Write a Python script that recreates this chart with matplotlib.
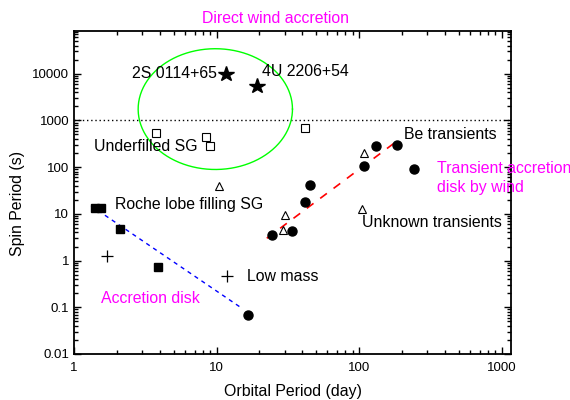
import numpy as np
import matplotlib
matplotlib.use("Agg")
import matplotlib.pyplot as plt

plt.rcParams['font.family'] = ['Liberation Sans', 'DejaVu Sans']

# orbital period (day) vs spin period (s) for each source class
wind_orb = [11.6, 19.25]
wind_spin = [9700, 5560]
wind_names = ['2S 0114+65', '4U 2206+54']

sg_under_orb = [3.73, 8.37, 8.96, 41.5]
sg_under_spin = [526, 438, 283, 681]

sg_roche_orb = [1.41, 1.54, 2.09, 3.89]
sg_roche_spin = [13.5, 13.2, 4.8, 0.72]

lowmass_orb = [1.70, 11.8]
lowmass_spin = [1.24, 0.47]

be_orb = [16.6, 24.3, 34.0, 41.8, 45.3, 108, 131, 184, 243]
be_spin = [0.069, 3.6, 4.3, 17.5, 41, 104, 277, 292, 93]

unknown_orb = [10.4, 29.4, 30.3, 104, 109]
unknown_spin = [38.6, 4.6, 9.4, 12.4, 203]

# trend lines (end points)
disk_fit_orb = [1.317, 15.0]
disk_fit_spin = [14.8, 0.096]
be_fit_orb = [22.5, 187]
be_fit_spin = [3.0, 373]

x_ticks = [1, 10, 100, 1000]
x_ticklabels = ['1', '10', '100', '1000']
y_ticks = [0.01, 0.1, 1, 10, 100, 1000, 10000]
y_ticklabels = ['0.01', '0.1', '1', '10', '100', '1000', '10000']

fig = plt.figure(figsize=(5.7, 4.0), dpi=100)
ax = fig.add_axes([0.130, 0.115, 0.767, 0.8075])
ax.set_xscale('log')
ax.set_yscale('log')
ax.set_xlim(1, 1170)
ax.set_ylim(0.01, 8.2e4)

ax.axhline(1000, color='k', ls=(0, (1, 2)), lw=1)

# wind accretion region
t = np.linspace(0, 2 * np.pi, 300)
ax.plot(10 ** (0.991 + 0.5415 * np.cos(t)), 10 ** (3.242 + 1.2925 * np.sin(t)),
        color='#00ff00', lw=1)

ax.plot(disk_fit_orb, disk_fit_spin, color='#0000ff', ls=(0, (3, 3)), lw=1)
ax.plot(be_fit_orb, be_fit_spin, color='#ff0000', ls=(0, (5, 5)), lw=1.2)

ax.plot(wind_orb, wind_spin, '*', color='k', ms=11.5, ls='none')
ax.plot(sg_under_orb, sg_under_spin, 's', mfc='white', mec='k', ms=5.5, mew=0.8, ls='none')
ax.plot(sg_roche_orb, sg_roche_spin, 's', color='k', ms=6, ls='none')
ax.plot(lowmass_orb, lowmass_spin, '+', color='k', ms=8, mew=0.9, ls='none')
ax.plot(be_orb, be_spin, 'o', color='k', ms=6.5, ls='none')
ax.plot(unknown_orb, unknown_spin, '^', mfc='white', mec='k', ms=5.5, mew=0.8, ls='none')

fs = 11.4
ax.text(10.1, 10000, wind_names[0], ha='right', va='center', fontsize=fs)
ax.text(20.8, 10900, wind_names[1], ha='left', va='center', fontsize=fs)
ax.text(1.38, 282, 'Underfilled SG', ha='left', va='center', fontsize=fs)
ax.text(205, 494, 'Be transients', ha='left', va='center', fontsize=fs)
ax.text(1.94, 15.6, 'Roche lobe filling SG', ha='left', va='center', fontsize=fs)
ax.text(105.5, 6.6, 'Unknown transients', ha='left', va='center', fontsize=fs)
ax.text(16.3, 0.454, 'Low mass', ha='left', va='center', fontsize=fs)
ax.text(1.55, 0.157, 'Accretion disk', ha='left', va='center', fontsize=fs, color='#ff00ff')
ax.text(351, 94, 'Transient accretion', ha='left', va='center', fontsize=fs, color='#ff00ff')
ax.text(351, 36.7, 'disk by wind', ha='left', va='center', fontsize=fs, color='#ff00ff')
fig.text(0.484, 0.954, 'Direct wind accretion', ha='center', va='center',
         fontsize=fs, color='#ff00ff')

ax.set_xticks(x_ticks)
ax.set_xticklabels(x_ticklabels)
ax.set_yticks(y_ticks)
ax.set_yticklabels(y_ticklabels)
ax.tick_params(which='both', direction='in', top=True, right=True, labelsize=9.5,
               width=1)
ax.tick_params(which='major', length=5)
ax.tick_params(which='minor', length=3)
ax.tick_params(axis='x', which='major', pad=6)
for s in ax.spines.values():
    s.set_linewidth(1.3)

ax.set_xlabel('Orbital Period (day)', fontsize=fs)
ax.set_ylabel('Spin Period (s)', fontsize=fs)
ax.xaxis.set_label_coords(0.5, -0.093)
ax.yaxis.set_label_coords(-0.112, 0.466)

fig.savefig('out.png', dpi=100)
